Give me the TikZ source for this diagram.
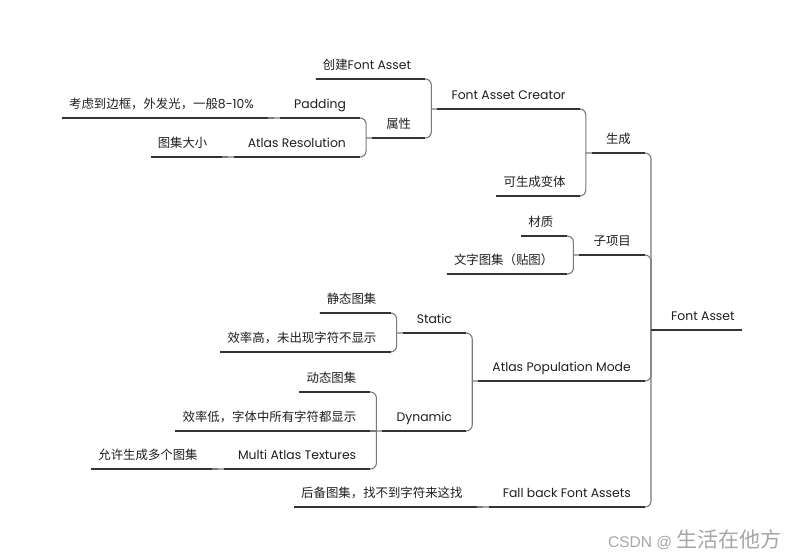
\documentclass[tikz,border=0pt]{standalone}
\usepackage{fontspec}
\setmainfont{Poppins}
\newfontfamily\cjk{Noto Sans CJK SC}
\newfontfamily\markfont{Liberation Sans}

\definecolor{linkgray}{HTML}{7A7A7A}
\definecolor{linedark}{HTML}{333333}
\definecolor{textdark}{HTML}{1F1F1F}

\begin{document}
\begin{tikzpicture}[
  x=1pt, y=-1pt,
  topic/.style={
    anchor=south east, inner xsep=7pt, inner ysep=6.5pt,
    text height=10pt, text depth=3pt, text=textdark,
    font=\fontsize{12.4}{15}\selectfont
  },
  leaf/.style={topic, execute at end node={\hspace*{13pt}}},
  branch/.style={topic, execute at begin node={\hspace*{13pt}},
    execute at end node={\hspace*{13pt}}},
  rootbox/.style={topic, anchor=south west,
    execute at begin node={\hspace*{13pt}}},
  link/.style={draw=linkgray, line width=1.1pt, rounded corners=6pt},
  uline/.style={draw=linedark, line width=1.1pt}
]
  \useasboundingbox[fill=white] (0,0) rectangle (794,559);

  % Root and first level
  \node[rootbox] (root) at (651,330) {Font Asset};
  \node[branch] (gen)      at (root.south west |- 0,153) {\cjk 生成};
  \node[branch] (sub)      at (root.south west |- 0,255) {\cjk 子项目};
  \node[branch] (apm)      at (root.south west |- 0,381) {Atlas Population Mode};
  \node[branch] (fallback) at (root.south west |- 0,507) {Fall back Font Assets};

  % Second level
  \node[branch] (fac)     at (gen.south west |- 0,109) {Font Asset Creator};
  \node[leaf]   (variant) at (gen.south west |- 0,196) {\cjk 可生成变体};
  \node[leaf]   (mat)     at (sub.south west |- 0,236) {\cjk 材质};
  \node[leaf]   (tex)     at (sub.south west |- 0,274) {\cjk 文字图集（贴图）};
  \node[branch] (static)  at (apm.south west |- 0,333) {Static};
  \node[branch] (dynamic) at (apm.south west |- 0,431) {Dynamic};
  \node[leaf]   (backup)  at (fallback.south west) {\cjk 后备图集，找不到字符来这找};

  % Third level
  \node[leaf]   (create)  at (fac.south west |- 0,79)  {{\cjk 创建}Font Asset};
  \node[branch] (attr)    at (fac.south west |- 0,138) {\cjk 属性};
  \node[leaf]   (sstatic) at (static.south west |- 0,313) {\cjk 静态图集};
  \node[leaf]   (seff)    at (static.south west |- 0,352) {\cjk 效率高，未出现字符不显示};
  \node[leaf]   (dstatic) at (dynamic.south west |- 0,392) {\cjk 动态图集};
  \node[leaf]   (deff)    at (dynamic.south west) {\cjk 效率低，字体中所有字符都显示};
  \node[branch] (multi)   at (dynamic.south west |- 0,469) {Multi Atlas Textures};

  % Deeper levels
  \node[branch] (padding)    at (attr.south west |- 0,118) {Padding};
  \node[branch] (res)        at (attr.south west |- 0,157) {Atlas Resolution};
  \node[leaf]   (border)     at (padding.south west) {{\cjk 考虑到边框，外发光，一般}8-10\%};
  \node[leaf]   (size)       at (res.south west) {\cjk 图集大小};
  \node[leaf]   (multiatlas) at (multi.south west) {\cjk 允许生成多个图集};

  % Connectors
  \foreach \a/\b in {root/gen, root/sub, root/apm, root/fallback,
      gen/fac, gen/variant, fac/create, fac/attr, attr/padding, attr/res,
      sub/mat, sub/tex, apm/static, apm/dynamic, static/sstatic, static/seff,
      dynamic/dstatic, dynamic/multi}
    \draw[link] (\a.south west) |- (\b.south west);
  \foreach \a/\b in {padding/border, res/size, dynamic/deff,
      multi/multiatlas, fallback/backup}
    \draw[link] (\a.south west) -- (\b.south west);

  % Underlines
  \draw[uline] (root.south west) -- (root.south east);
  \foreach \n in {variant, mat, tex, backup, create, sstatic, seff,
      dstatic, deff, border, size, multiatlas}
    \draw[uline, shorten >=6pt] (\n.south west) -- (\n.south east);
  \foreach \n in {gen, sub, apm, fallback, fac, static, dynamic, attr,
      multi, padding, res}
    \draw[uline, shorten <=6pt, shorten >=6pt] (\n.south west) -- (\n.south east);

  % Watermark
  \node[anchor=base west, inner xsep=0pt, text=black!35,
    font=\markfont\fontsize{15.5}{18}\selectfont]
    (mark) at (608,547) {CSDN @\hspace{4pt}{\cjk\fontsize{21}{23}\selectfont 生活在他方}};
\end{tikzpicture}
\end{document}
